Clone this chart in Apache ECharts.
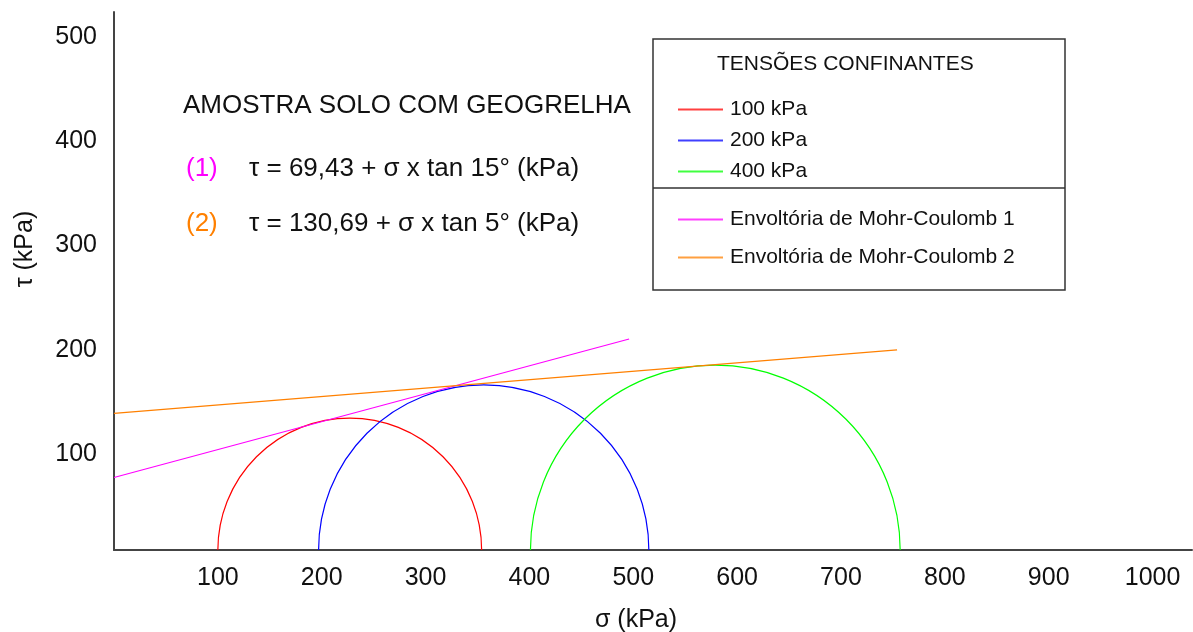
<!DOCTYPE html>
<html>
<head>
<meta charset="utf-8">
<title>Envoltórias de Mohr-Coulomb</title>
<script src="https://cdn.jsdelivr.net/npm/echarts@6/dist/echarts.min.js"></script>
<style>
  html, body { margin: 0; padding: 0; background: #fff; }
  #chart { width: 1193px; height: 632px; }
</style>
</head>
<body>
<div id="chart"></div>
<script>
// Mohr circles: confining stress (sigma3) and failure stress (sigma1)
const circleNames = ["100 kPa", "200 kPa", "400 kPa"];
const circleColors = ["#ff0000", "#0000ff", "#00ff00"];
const sigma3 = [100, 197, 401];
const sigma1 = [354, 515, 757];

// envelope end points
const envelopeNames = ["Envoltória de Mohr-Coulomb 1", "Envoltória de Mohr-Coulomb 2"];
const envelopeColors = ["#ff00ff", "#ff8000"];
const env1Sigma = [0, 496];
const env1Tau = [69.4, 202];
const env2Sigma = [0, 754];
const env2Tau = [130.7, 191.5];

const xMax = 1038;
const yMax = 515;

const font = "Liberation Sans, Arial, sans-serif";

function renderSemicircle(params, api) {
  const left = api.coord([api.value(0), 0]);
  const right = api.coord([api.value(1), 0]);
  return {
    type: "arc",
    shape: {
      cx: (left[0] + right[0]) / 2,
      cy: left[1],
      r: (right[0] - left[0]) / 2,
      startAngle: Math.PI,
      endAngle: Math.PI * 2,
      clockwise: true,
    },
    style: { stroke: api.visual("color"), fill: "none", lineWidth: 1.2 },
  };
}

window.addEventListener("DOMContentLoaded", function () {
  const chart = echarts.init(document.getElementById("chart"));

  const circleSeries = circleNames.map((name, i) => ({
    name: name,
    type: "custom",
    renderItem: renderSemicircle,
    itemStyle: { color: circleColors[i] },
    encode: { x: [0, 1], y: 2 },
    data: [[sigma3[i], sigma1[i], 0]],
    silent: true,
  }));

  const envelopes = [
    [env1Sigma, env1Tau],
    [env2Sigma, env2Tau],
  ];
  const envelopeSeries = envelopeNames.map((name, i) => ({
    name: name,
    type: "line",
    symbol: "none",
    color: envelopeColors[i],
    itemStyle: { color: envelopeColors[i] },
    lineStyle: { width: 1.2, color: envelopeColors[i] },
    data: envelopes[i][0].map((s, j) => [s, envelopes[i][1][j]]),
    silent: true,
  }));

  const legendCommon = {
    orient: "vertical",
    left: 673,
    icon: "rect",
    itemWidth: 45,
    itemHeight: 2,
    selectedMode: false,
    textStyle: { fontFamily: font, fontSize: 21, color: "#111", padding: [0, 0, 0, 2] },
  };

  const options = {
    animation: false,
    grid: { left: 114, right: 1, top: 12, bottom: 82 },
    xAxis: {
      type: "value",
      min: 0,
      max: xMax,
      interval: 100,
      axisLine: { lineStyle: { color: "#444", width: 2 } },
      axisTick: { show: false },
      splitLine: { show: false },
      axisLabel: {
        showMinLabel: false,
        showMaxLabel: false,
        margin: 16,
        formatter: (v) => String(v),
        fontFamily: font,
        fontSize: 25,
        color: "#111",
      },
    },
    yAxis: {
      type: "value",
      min: 0,
      max: yMax,
      interval: 100,
      axisLine: { show: true, lineStyle: { color: "#444", width: 2 } },
      axisTick: { show: false },
      splitLine: { show: false },
      axisLabel: {
        showMinLabel: false,
        showMaxLabel: false,
        margin: 17,
        verticalAlign: "top",
        lineHeight: 18,
        formatter: (v) => String(v),
        fontFamily: font,
        fontSize: 25,
        color: "#111",
      },
    },
    legend: [
      {
        ...legendCommon,
        top: 94,
        itemGap: 10,
        data: circleNames.map((n, i) => ({ name: n, itemStyle: { color: circleColors[i], opacity: 0.75 } })),
      },
      {
        ...legendCommon,
        top: 204,
        itemGap: 17,
        data: envelopeNames.map((n, i) => ({ name: n, itemStyle: { color: envelopeColors[i], opacity: 0.75 } })),
      },
    ],
    graphic: [
      {
        type: "rect",
        shape: { x: 653, y: 39, width: 412, height: 251 },
        style: { fill: "none", stroke: "#333", lineWidth: 1.5 },
        z: 1,
      },
      {
        type: "line",
        shape: { x1: 653, y1: 188, x2: 1065, y2: 188 },
        style: { stroke: "#333", lineWidth: 1.5 },
        z: 1,
      },
      {
        type: "text",
        x: 717,
        y: 64,
        style: { text: "TENSÕES CONFINANTES", font: "21px " + font, fill: "#111", verticalAlign: "middle" },
      },
      {
        type: "text",
        x: 183,
        y: 106,
        style: { text: "AMOSTRA SOLO COM GEOGRELHA", font: "26px " + font, fill: "#111", verticalAlign: "middle" },
      },
      {
        type: "text",
        x: 186,
        y: 169,
        style: { text: "(1)", font: "26px " + font, fill: envelopeColors[0], verticalAlign: "middle" },
      },
      {
        type: "text",
        x: 249,
        y: 169,
        style: { text: "τ = 69,43 + σ x tan 15° (kPa)", font: "26px " + font, fill: "#111", verticalAlign: "middle" },
      },
      {
        type: "text",
        x: 186,
        y: 224,
        style: { text: "(2)", font: "26px " + font, fill: envelopeColors[1], verticalAlign: "middle" },
      },
      {
        type: "text",
        x: 249,
        y: 224,
        style: { text: "τ = 130,69 + σ x tan 5° (kPa)", font: "26px " + font, fill: "#111", verticalAlign: "middle" },
      },
      {
        type: "text",
        x: 636,
        y: 620,
        style: { text: "σ (kPa)", font: "25px " + font, fill: "#111", align: "center", verticalAlign: "middle" },
      },
      {
        type: "text",
        x: 25,
        y: 249,
        rotation: Math.PI / 2,
        style: { text: "τ (kPa)", font: "25px " + font, fill: "#111", align: "center", verticalAlign: "middle" },
      },
    ],
    series: [...circleSeries, ...envelopeSeries],
  };

  chart.setOption(options);
});
</script>
</body>
</html>
